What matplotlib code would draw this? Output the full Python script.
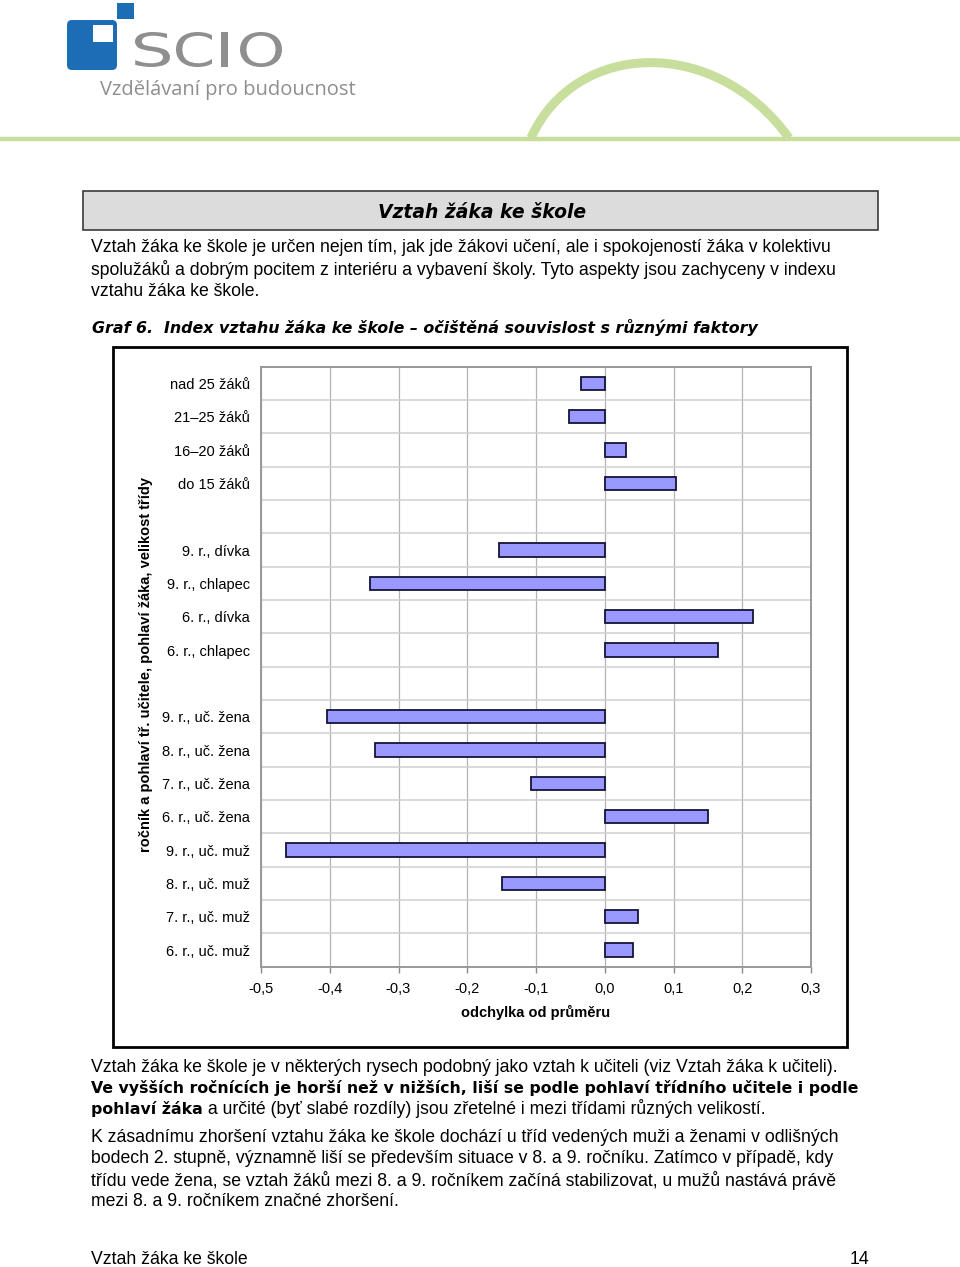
import numpy as np
import matplotlib
matplotlib.use("Agg")
import matplotlib.pyplot as plt
from matplotlib.patches import Rectangle, FancyBboxPatch, PathPatch
from matplotlib.path import Path
from matplotlib.textpath import TextPath
from matplotlib.font_manager import FontProperties
from matplotlib.transforms import Affine2D

# ---------------- data ----------------
categories = ["nad 25 žáků", "21–25 žáků", "16–20 žáků", "do 15 žáků", "",
              "9. r., dívka", "9. r., chlapec", "6. r., dívka", "6. r., chlapec", "",
              "9. r., uč. žena", "8. r., uč. žena", "7. r., uč. žena", "6. r., uč. žena",
              "9. r., uč. muž", "8. r., uč. muž", "7. r., uč. muž", "6. r., uč. muž"]
values = [-0.035, -0.052, 0.031, 0.104, None,
          -0.154, -0.341, 0.216, 0.165, None,
          -0.404, -0.334, -0.107, 0.150,
          -0.464, -0.149, 0.049, 0.041]
x_ticks = [-0.5, -0.4, -0.3, -0.2, -0.1, 0.0, 0.1, 0.2, 0.3]
x_tick_labels = ["-0,5", "-0,4", "-0,3", "-0,2", "-0,1", "0,0", "0,1", "0,2", "0,3"]
x_title = "odchylka od průměru"
y_title = "ročník a pohlaví tř. učitele, pohlaví žáka, velikost třídy"

header_title = "Vztah žáka ke škole"
intro_lines = ["Vztah žáka ke škole je určen nejen tím, jak jde žákovi učení, ale i spokojeností žáka v kolektivu",
               "spolužáků a dobrým pocitem z interiéru a vybavení školy. Tyto aspekty jsou zachyceny v indexu",
               "vztahu žáka ke škole."]
graph_caption = "Graf 6.  Index vztahu žáka ke škole – očištěná souvislost s různými faktory"
after_line1 = "Vztah žáka ke škole je v některých rysech podobný jako vztah k učiteli (viz Vztah žáka k učiteli)."
after_bold2 = "Ve vyšších ročnících je horší než v nižších, liší se podle pohlaví třídního učitele i podle"
after_bold3 = "pohlaví žáka"
after_rest3 = " a určité (byť slabé rozdíly) jsou zřetelné i mezi třídami různých velikostí."
para2_lines = ["K zásadnímu zhoršení vztahu žáka ke škole dochází u tříd vedených muži a ženami v odlišných",
               "bodech 2. stupně, významně liší se především situace v 8. a 9. ročníku. Zatímco v případě, kdy",
               "třídu vede žena, se vztah žáků mezi 8. a 9. ročníkem začíná stabilizovat, u mužů nastává právě",
               "mezi 8. a 9. ročníkem značné zhoršení."]
footer_left = "Vztah žáka ke škole"
footer_right = "14"
logo_word = "SCIO"
logo_tagline = "Vzdělávaní pro budoucnost"

# ---------------- figure ----------------
W, H = 960, 1267
fig = plt.figure(figsize=(W / 100, H / 100), dpi=100)
fig.patch.set_facecolor("white")

bg = fig.add_axes([0, 0, 1, 1])
bg.set_xlim(0, W)
bg.set_ylim(H, 0)
bg.axis("off")

BODY = "Liberation Sans"
BODY_SIZE = 12.7
BOLD_FAMILY = "DejaVu Sans"
BOLD_SIZE = 11.35

# ---- logo ----
blue = "#1c6db4"
bg.add_patch(FancyBboxPatch((70, 23), 44, 44, boxstyle="round,pad=3,rounding_size=5",
                            fc=blue, ec="none"))
bg.add_patch(Rectangle((93, 25), 20, 17, fc="white", ec="none"))
bg.add_patch(Rectangle((117, 3), 17, 16, fc=blue, ec="none"))

fp_logo = FontProperties(family="DejaVu Sans")
letter_boxes = [(135, 170), (176, 212), (221, 228), (240, 282)]
ytop, ybot = 32, 67
for ch, (x0, x1) in zip(logo_word, letter_boxes):
    tp = TextPath((0, 0), ch, size=100, prop=fp_logo)
    ext = tp.get_extents()
    sx = (x1 - x0) / ext.width
    sy = (ybot - ytop) / ext.height
    tr = (Affine2D().translate(-ext.x0, -ext.y0).scale(sx, -sy).translate(x0, ybot))
    p = tr.transform_path(tp)
    bg.add_patch(PathPatch(p, fc="#8f8f8f", ec="none"))
bg.text(100, 95, logo_tagline, ha="left", va="baseline",
        fontsize=14.5, color="#8e8e8e", family="Open Sans")

# ---- green decoration ----
green = "#c8de9c"
bg.plot([0, W], [138.5, 138.5], color=green, lw=3.2, solid_capstyle="butt")
arc = Path([(531, 138), (575, 40), (715, 35), (789, 138)],
           [Path.MOVETO, Path.CURVE4, Path.CURVE4, Path.CURVE4])
bg.add_patch(PathPatch(arc, fc="none", ec=green, lw=6.5))

# ---- header box ----
bg.add_patch(Rectangle((83, 191), 795, 39, fc="#dcdcdc", ec="#3a3a3a", lw=1.2))
bg.text(482, 212, header_title, ha="center", va="center", fontsize=13.5,
        family="DejaVu Sans", fontweight="bold", fontstyle="oblique", color="black")

# ---- intro paragraph ----
for i, line in enumerate(intro_lines):
    bg.text(91, 247 + i * 22.3, line, ha="left", va="center", fontsize=BODY_SIZE,
            family=BODY, color="black")
bg.text(92, 328, graph_caption, ha="left", va="center", fontsize=11.4,
        family="DejaVu Sans", fontweight="bold", fontstyle="oblique", color="black")

# ---- chart frame ----
bg.add_patch(Rectangle((113, 347), 734, 700, fc="white", ec="black", lw=2.0))

# ---- chart ----
L, R, T, B = 261, 811, 366.7, 966.7
ax = fig.add_axes([L / W, 1 - B / H, (R - L) / W, (B - T) / H])
ax.set_facecolor("white")
n = len(categories)
ypos = np.arange(n)
idx = [i for i, v in enumerate(values) if v is not None]
ax.barh([ypos[i] for i in idx], [values[i] for i in idx], height=0.4,
        color="#9999ff", edgecolor="#141438", linewidth=1.3, zorder=3)
ax.set_xlim(-0.5, 0.3)
ax.set_ylim(n - 0.5, -0.5)
ax.set_yticks(ypos)
ax.set_yticklabels(categories, fontsize=10.5, family="Liberation Sans")
ax.set_yticks(np.arange(-0.5, n, 1.0), minor=True)
ax.set_xticks(x_ticks)
ax.set_xticklabels(x_tick_labels, fontsize=10.5, family="Liberation Sans")
ax.tick_params(axis="y", which="major", length=0, pad=8)
ax.tick_params(axis="y", which="minor", length=0)
ax.tick_params(axis="x", which="major", length=4, width=1, color="#888888", pad=7)
ax.grid(axis="x", which="major", color="#b4b4b4", lw=0.9, zorder=0)
ax.grid(axis="y", which="minor", color="#cfcfcf", lw=1.1, zorder=0)
for side in ["top", "right", "left", "bottom"]:
    ax.spines[side].set_color("#999999")
    ax.spines[side].set_linewidth(1.4)

bg.text(536, 1012, x_title, ha="center", va="center", fontsize=10.5,
        family="Liberation Sans", fontweight="bold")
bg.text(146, 665, y_title, ha="center", va="center", rotation=90, fontsize=10.5,
        family="Liberation Sans", fontweight="bold")

# ---- text after chart ----
bg.text(91, 1067, after_line1, ha="left", va="center", fontsize=BODY_SIZE, family=BODY)
bg.text(91, 1088, after_bold2, ha="left", va="center", fontsize=BOLD_SIZE, family=BOLD_FAMILY,
        fontweight="bold")
t1 = bg.text(91, 1109, after_bold3, ha="left", va="center", fontsize=BOLD_SIZE,
             family=BOLD_FAMILY, fontweight="bold")
bg.annotate(after_rest3, xy=(1, 0.5), xycoords=t1, ha="left", va="center",
            fontsize=BODY_SIZE, family=BODY)
for i, line in enumerate(para2_lines):
    bg.text(91, 1137 + i * 21.5, line, ha="left", va="center", fontsize=BODY_SIZE,
            family=BODY)

bg.text(91, 1259, footer_left, ha="left", va="center", fontsize=BODY_SIZE, family=BODY)
bg.text(869, 1259, footer_right, ha="right", va="center", fontsize=BODY_SIZE, family=BODY)

fig.savefig("out.png", dpi=100, facecolor="white")
